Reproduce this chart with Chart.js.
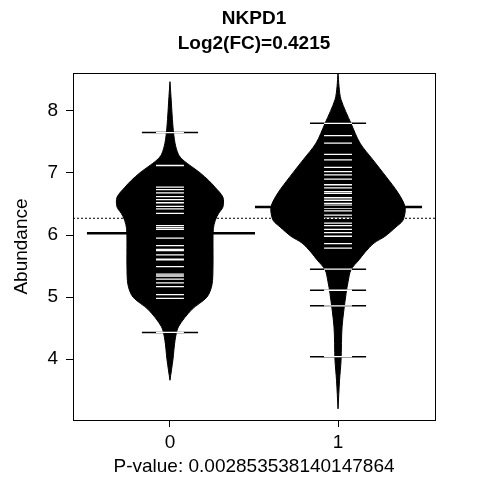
<!DOCTYPE html>
<html>
<head>
<meta charset="utf-8">
<script src="https://cdn.jsdelivr.net/npm/chart.js@4"></script>
<style>
  html, body { margin: 0; padding: 0; background: #fff; }
  #wrap { width: 480px; height: 480px; }
</style>
</head>
<body>
<div id="wrap"><canvas id="bean"></canvas></div>
<script>
// groups and positions
const groups = ['0', '1'];
const titleLines = ['NKPD1', 'Log2(FC)=0.4215'];
const pValueLabel = 'P-value: 0.002853538140147864';
const yTicks = [4, 5, 6, 7, 8];

// bean density outlines: y level and half width (x units)
const bean0Y = [8.47, 8.23, 7.74, 7.48, 7.3, 7.21, 7.1, 7.0, 6.88, 6.77, 6.61, 6.45, 6.35, 6.24, 6.1, 5.9, 5.5, 5.2, 5.0, 4.8, 4.52, 4.3, 4.0, 3.66];
const bean0W = [0.0, 0.006, 0.018, 0.03, 0.05, 0.077, 0.13, 0.18, 0.23, 0.268, 0.315, 0.315, 0.29, 0.27, 0.258, 0.256, 0.256, 0.25, 0.22, 0.13, 0.05, 0.03, 0.018, 0.0];
const bean1Y = [8.63, 8.39, 8.18, 7.8, 7.48, 7.21, 6.94, 6.68, 6.45, 6.24, 6.13, 5.98, 5.87, 5.72, 5.6, 5.44, 5.25, 5.06, 4.52, 3.98, 3.66, 3.2];
const bean1W = [0.0, 0.006, 0.018, 0.077, 0.131, 0.208, 0.286, 0.357, 0.399, 0.387, 0.345, 0.28, 0.214, 0.16, 0.125, 0.077, 0.06, 0.048, 0.024, 0.018, 0.009, 0.0];

// individual observations (bean lines)
const obs0 = [7.12, 6.77, 6.73, 6.68, 6.62, 6.57, 6.52, 6.46, 6.42, 6.35, 6.15, 6.12, 6.09, 6.03, 5.95, 5.83, 5.77, 5.75, 5.68, 5.61, 5.6, 5.49, 5.37, 5.34, 5.29, 5.23, 5.17, 5.04, 4.98];
const obs0Long = [7.65, 4.43];
const obs1 = [7.6, 7.48, 7.3, 7.21, 7.09, 7.02, 6.97, 6.9, 6.81, 6.76, 6.7, 6.67, 6.6, 6.56, 6.51, 6.48, 6.43, 6.39, 6.32, 6.27, 6.19, 6.15, 5.98, 5.86, 5.79];
const obs1Long = [7.8, 6.09, 6.04, 5.45, 5.11, 4.86, 4.04];

const means = [6.03, 6.45];
const overallMean = 6.27;

function outline(center, ys, ws) {
    const pts = ys.map((y, i) => ({ x: center - ws[i], y: y }));
    for (let i = ys.length - 1; i >= 0; i--) pts.push({ x: center + ws[i], y: ys[i] });
    pts.push(pts[0]);
    return pts;
}

function segments(center, values, half) {
    const pts = [];
    values.forEach(v => {
        pts.push({ x: center - half, y: v }, { x: center + half, y: v }, { x: null, y: null });
    });
    return pts;
}

const shortHalf = 0.083, longHalf = 0.167;

// lower order is drawn on top
const datasets = [
    { order: 6, data: outline(0, bean0Y, bean0W), fill: 'shape', backgroundColor: '#000', borderColor: '#000', borderWidth: 1, tension: 0.3 },
    { order: 5, data: outline(1, bean1Y, bean1W), fill: 'shape', backgroundColor: '#000', borderColor: '#000', borderWidth: 1, tension: 0.3 },
    { order: 4, data: segments(0, obs0Long, longHalf).concat(segments(1, obs1Long, longHalf)), borderColor: '#000', borderWidth: 1.5 },
    { order: 3, data: segments(0, obs0.concat(obs0Long), shortHalf).concat(segments(1, obs1.concat(obs1Long), shortHalf)), borderColor: '#fff', borderWidth: 1.3 },
    { order: 2, data: [{ x: -0.494, y: means[0] }, { x: 0.506, y: means[0] }, { x: null, y: null },
             { x: 0.506, y: means[1] }, { x: 1.5, y: means[1] }], borderColor: '#000', borderWidth: 2.5 },
    { order: 1, data: [{ x: -0.577, y: overallMean }, { x: 1.577, y: overallMean }], borderColor: '#000', borderWidth: 1, borderDash: [2, 2] }
].map(d => Object.assign({ showLine: true, pointRadius: 0, spanGaps: false, tension: 0 }, d));

const framePlugin = {
    id: 'frame',
    afterDraw(chart) {
        const { ctx, chartArea: a } = chart;
        ctx.save();
        ctx.strokeStyle = '#000';
        ctx.lineWidth = 1;
        ctx.strokeRect(a.left + 0.5, a.top + 0.5, a.right - a.left, a.bottom - a.top);
        ctx.fillStyle = '#000';
        ctx.textAlign = 'center';
        ctx.textBaseline = 'middle';
        ctx.font = 'bold 19px "Liberation Sans", Arial, sans-serif';
        ctx.fillText(titleLines[0], (a.left + a.right) / 2, 19);
        ctx.fillText(titleLines[1], (a.left + a.right) / 2, 44);
        ctx.font = '19px "Liberation Sans", Arial, sans-serif';
        ctx.fillText(pValueLabel, (a.left + a.right) / 2, 467);
        ctx.restore();
    }
};

new Chart(document.getElementById('bean'), {
    type: 'scatter',
    data: { datasets: datasets },
    options: {
        responsive: true,
        maintainAspectRatio: false,
        animation: false,
        layout: { padding: { top: 73, right: 45, left: 0, bottom: 0 } },
        plugins: { legend: { display: false }, tooltip: { enabled: false } },
        scales: {
            x: {
                type: 'linear', min: -0.577, max: 1.577,
                afterBuildTicks: s => { s.ticks = groups.map((g, i) => ({ value: i })); },
                afterFit: s => { s.height = 60; },
                grid: { drawOnChartArea: false, color: '#000', tickLength: 7 },
                border: { display: false },
                ticks: { color: '#000', padding: 4, font: { family: '"Liberation Sans", Arial', size: 19 },
                         callback: v => groups[v] },
            },
            y: {
                min: 3.02, max: 8.61,
                afterBuildTicks: s => { s.ticks = yTicks.map(v => ({ value: v })); },
                afterFit: s => { s.width = 73; },
                grid: { drawOnChartArea: false, color: '#000', tickLength: 7 },
                border: { display: false },
                title: { display: true, text: 'Abundance', color: '#000', padding: { top: 10, bottom: 0 },
                         font: { family: '"Liberation Sans", Arial', size: 19 } },
                ticks: { color: '#000', padding: 8, font: { family: '"Liberation Sans", Arial', size: 19 } }
            }
        }
    },
    plugins: [framePlugin]
});
</script>
</body>
</html>
